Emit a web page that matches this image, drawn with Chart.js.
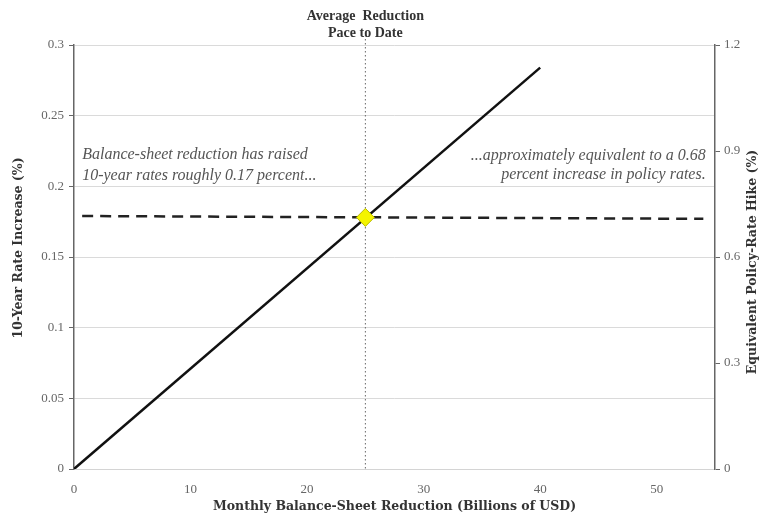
<!DOCTYPE html>
<html>
<head>
<meta charset="utf-8">
<script src="https://cdn.jsdelivr.net/npm/chart.js@4.4.0/dist/chart.umd.min.js"></script>
<style>
  html, body { margin: 0; padding: 0; background: #fff; }
  #wrap { width: 773px; height: 518px; }
</style>
</head>
<body>
<div id="wrap"><canvas id="chart"></canvas></div>
<script>
// reduction (billions/month) vs 10-year rate increase (%)
const lineX = [0, 40];
const lineY = [0, 0.284];
// current effect level, dashed
const levelX = [0.7, 54];
const levelY = [0.179, 0.177];
// average pace to date
const paceX = 25;
const paceY = 0.178;

const titleLines = ['Average  Reduction', 'Pace to Date'];
const noteLeft = ['Balance-sheet reduction has raised', '10-year rates roughly 0.17 percent...'];
const noteRight = ['...approximately equivalent to a 0.68', 'percent increase in policy rates.'];
const leftTitle = '10-Year Rate Increase (%)';
const rightTitle = 'Equivalent Policy-Rate Hike (%)';
const bottomTitle = 'Monthly Balance-Sheet Reduction (Billions of USD)';

const serif = '"Liberation Serif", "DejaVu Serif", serif';
const wideSerif = '"DejaVu Serif", serif';

const extras = {
  id: 'extras',
  beforeDatasetsDraw(chart) {
    const {ctx, chartArea, scales} = chart;
    const px = scales.x.getPixelForValue(paceX);
    ctx.save();
    ctx.strokeStyle = '#666';
    ctx.lineWidth = 1;
    ctx.setLineDash([1.5, 2.5]);
    ctx.beginPath();
    ctx.moveTo(px, chartArea.top - 10);
    ctx.lineTo(px, chartArea.bottom);
    ctx.stroke();
    ctx.restore();
  },
  afterDraw(chart) {
    const {ctx, chartArea, scales} = chart;
    const px = scales.x.getPixelForValue(paceX);
    const midY = (chartArea.top + chartArea.bottom) / 2;
    const midX = (chartArea.left + chartArea.right) / 2;
    ctx.save();
    ctx.fillStyle = '#333';
    ctx.textAlign = 'center';
    ctx.textBaseline = 'middle';
    ctx.font = 'bold 14px ' + serif;
    ctx.fillText(titleLines[0], px, 16);
    ctx.fillText(titleLines[1], px, 33);

    // axis titles, both vertical ones reading bottom to top
    ctx.font = 'bold 12.5px ' + wideSerif;
    ctx.fillText(bottomTitle, midX, 507);
    ctx.save();
    ctx.translate(19, midY - 9);
    ctx.rotate(-Math.PI / 2);
    ctx.fillText(leftTitle, 0, 0);
    ctx.restore();
    ctx.save();
    ctx.translate(chartArea.right + 38, midY + 5);
    ctx.rotate(-Math.PI / 2);
    ctx.fillText(rightTitle, 0, 0);
    ctx.restore();

    ctx.fillStyle = '#555';
    ctx.font = 'italic 16px ' + serif;
    ctx.textAlign = 'left';
    const lx = scales.x.getPixelForValue(0.7);
    ctx.fillText(noteLeft[0], lx, scales.y.getPixelForValue(0.2225));
    ctx.fillText(noteLeft[1], lx, scales.y.getPixelForValue(0.2075));
    ctx.textAlign = 'right';
    const rx = scales.x.getPixelForValue(54.2);
    ctx.fillText(noteRight[0], rx, scales.y.getPixelForValue(0.2215));
    ctx.fillText(noteRight[1], rx, scales.y.getPixelForValue(0.208));
    ctx.restore();
  }
};

function pts(xs, ys) {
  return xs.map((x, i) => ({x: x, y: ys[i]}));
}

const tickFont = { family: serif, size: 13 };
const plain = v => String(Math.round(v * 1000) / 1000);

new Chart(document.getElementById('chart'), {
  type: 'scatter',
  data: {
    datasets: [
      {
        data: [{x: paceX, y: paceY}],
        pointStyle: 'rectRot',
        pointRadius: 9,
        backgroundColor: '#f4f400',
        borderColor: '#b8b800',
        borderWidth: 1,
        order: 0
      },
      {
        data: pts(lineX, lineY),
        showLine: true,
        borderColor: '#111',
        borderWidth: 2.5,
        pointRadius: 0,
        order: 1
      },
      {
        data: pts(levelX, levelY),
        showLine: true,
        borderColor: '#222',
        borderWidth: 2.5,
        borderDash: [11, 7],
        pointRadius: 0,
        order: 2
      }
    ]
  },
  options: {
    responsive: true,
    maintainAspectRatio: false,
    animation: false,
    layout: { padding: { top: 45 } },
    plugins: {
      legend: { display: false },
      title: { display: false },
      tooltip: { enabled: false }
    },
    scales: {
      x: {
        type: 'linear',
        min: 0,
        max: 55,
        afterFit: s => { s.height = 49; },
        ticks: {
          stepSize: 10, color: '#666', font: tickFont, padding: 5,
          callback: v => (v % 10 === 0 ? plain(v) : '')
        },
        grid: { display: false },
        border: { color: '#d4d4d4' },
        title: { display: false }
      },
      y: {
        min: 0,
        max: 0.3,
        afterFit: s => { s.width = 74; },
        ticks: { stepSize: 0.05, color: '#666', font: tickFont, padding: 5, callback: plain },
        grid: { color: '#dadada', tickColor: '#666', tickLength: 5 },
        border: { color: '#666', width: 1.5 },
        title: { display: false }
      },
      y2: {
        position: 'right',
        min: 0,
        max: 1.2,
        afterFit: s => { s.width = 58; },
        ticks: { stepSize: 0.3, color: '#666', font: tickFont, padding: 4, callback: plain },
        grid: { drawOnChartArea: false, tickColor: '#666', tickLength: 5 },
        border: { color: '#666', width: 1.5 },
        title: { display: false }
      }
    }
  },
  plugins: [extras]
});
</script>
</body>
</html>
